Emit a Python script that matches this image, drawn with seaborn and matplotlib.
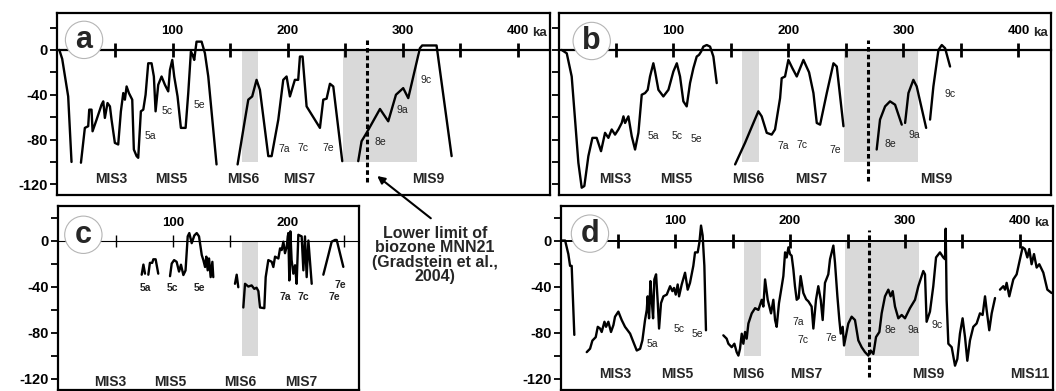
import matplotlib
matplotlib.use("Agg")
import matplotlib.pyplot as plt
import seaborn as sns
import pandas as pd

# ---------------- data (age in ka, sea level in m) ----------------
# panel a
a_ka = [
    [1.5, 4, 9.2, 12.1],
    [20.3, 23.7, 26.6, 27.5, 29.5, 30.4, 33.9, 36.8, 38.2, 39.7, 41.1, 43.4, 45.5, 46.9, 49.8,
     52.7, 55.0, 57.1, 58.5, 60.0, 62.0, 64.9, 66.3, 68.7, 70.1, 72.4, 74.5, 76.5, 78.8, 81.7,
     83.7, 85.2, 87.5, 90.4, 93.3, 96.2, 97.7, 99.7, 101.4, 104.3, 107.2, 111.3, 113.6, 115.9,
     117.4, 118.8, 120.8, 125.2, 128.1, 131.0, 138.2],
    [156.5, 162.9, 165.8, 169.2, 173.0, 175.9, 183.2, 186.1, 191.9, 196.2, 199.1, 202.0, 206.3,
     209.2, 210.7, 213.0, 216.5, 228.1, 231.0, 233.9, 236.8, 239.7, 247.5],
    [261.4, 264.3, 268.7, 280.3, 287.5, 294.2, 300.5, 304.9, 315.0, 317, 329.5, 342.6],
]
a_m = [
    [0, -8, -41.5, -100],
    [-100.7, -69.6, -68.1, -53.3, -53.3, -72.6, -62.2, -53.3, -48.9, -45.9, -60.7, -47.4, -50.4,
     -62.2, -83, -84.4, -55, -38.5, -44.4, -32.6, -38.5, -44.4, -88.9, -94.8, -96.3, -54.8,
     -53.3, -40, -11.9, -11.9, -23.7, -54.8, -31.1, -23.7, -31.1, -37, -17.8, -8.9, -23.7,
     -41.5, -69.6, -69.6, -38.5, -1.5, -4.4, -8.9, 7.4, 7.4, -3, -23.7, -102.2],
    [-102.2, -62.2, -44.4, -41.5, -26.7, -35.6, -94.8, -94.8, -62.2, -26.7, -23.7, -41.5, -26.7,
     -26.7, -5.9, -5.9, -50.4, -69.6, -44.4, -43.5, -30.2, -32.6, -99.3],
    [-99.3, -81.5, -74, -52.7, -63.7, -40, -34.1, -43, 1.5, 4, 4, -94.8],
]

# panel b
b_ka = [
    [2.9, 7.3, 11.6, 14.5, 17.4, 20.3, 22.6, 26.1, 29.6, 33.3, 37.1, 40.6, 43.5, 46.4, 49.3,
     52.2, 55.1, 56.6, 58, 60.9, 63.8, 66.7, 69.6, 72.5, 75.4, 77.7, 79.7, 82.6, 84.1, 87, 91.3,
     95.7, 100, 103, 105.8, 108.7, 111.6, 114.5, 117.4, 120.3, 122.3, 124.1, 126.1, 129, 131.9,
     134.8, 137.7],
    [153.7, 162.3, 169.6, 173.9, 176.8, 181.2, 185.5, 188.4, 192.8, 194.2, 197.1, 200, 203.5,
     207.3, 213.1, 218, 221.8, 224.7, 227.6, 233.4, 239.2, 242.1, 247.9],
    [276.8, 279.7, 284.1, 288.4, 292.8, 298.6],
    [301.5, 304.4, 308.7, 311.6, 319.8],
    [323.2, 326.1, 330.5, 333.4, 336.3, 340.6],
]
b_m = [
    [0, -3, -23.7, -62, -100.7, -123, -121.5, -94.8, -78.5, -78.5, -90.4, -74, -78.5, -71,
     -75.6, -71, -65.2, -59.3, -65.2, -59.3, -77, -88.9, -74, -40, -38.5, -35.6, -23.7, -11.9,
     -19.3, -35.6, -41.5, -35.6, -19.3, -11.9, -23.7, -45.9, -50.4, -29.6, -16.3, -5.9, -4.4,
     -1.5, 3, 4.4, 3, -5.9, -29.6],
    [-102.2, -83, -65.2, -54.8, -59.3, -74, -75.6, -71, -43, -25.2, -23.7, -8.9, -16.3, -23.7,
     -8.9, -20, -38.5, -65.2, -66.7, -38.5, -11.9, -14.8, -68.1],
    [-88.9, -62.2, -50.4, -45.9, -48.9, -66.7],
    [-65.2, -38.5, -26.7, -32.6, -69.6],
    [-62.2, -32.6, 0, 4.4, 1.5, -14.8],
]

# panel c
c_ka = [
    [72.4, 73.9, 75.3],
    [78.2, 79.6, 81.6, 82.6, 84.6, 86.9],
    [97.2, 98.7, 100.8, 103, 105.1, 106.8, 108.9, 110.8, 112.7, 114.1, 116.2, 118.5, 120.6,
     122.6, 125, 126.4, 127.9, 129, 130.2, 131.4, 132.8, 134.3, 135.1],
    [154.1, 155.6, 157],
    [161.4, 162.9, 165.8, 168.7, 171, 173, 174.6, 176, 179.8, 181, 183.3, 186.3, 187.7, 189.2,
     192.1, 193.6, 195, 196.5, 197.9, 199.4, 200.8, 201.7, 202.6, 203.7, 205.2, 206.7, 208.1,
     209.6, 212.5, 214, 215.4, 216.9, 218.4, 221.3],
    [231.5, 235.9, 238.8, 241.7, 243.2, 249],
]
c_m = [
    [-29.7, -20.9, -28.8],
    [-29.7, -19.4, -19.4, -16.3, -16.3, -28.8],
    [-31, -20, -17, -18.5, -27, -21, -30, -26, 3.6, 6.5, -2.3, 4.4, 6.5, 3.6, -12.6, -17, -23,
     -14, -25.9, -15.6, -31.8, -18.5, -31.8],
    [-37.6, -29.7, -40.6],
    [-58.2, -37.6, -40, -39, -42, -41, -44, -58.2, -58.8, -31.8, -17, -18.5, -23, -14, -15.6,
     -6.8, -8.3, -1, -11, -5.3, 6.5, -34.7, 8, -17, -28.8, -21.5, -37.6, 5, 3.6, -25.9, 3.6,
     -31.8, 0, -37.6],
    [-29.7, -12.6, -1, 0.5, 0.5, -22.9],
]

# panel d
d_ka = [
    [1.5, 4.4, 7.2, 8.7, 10.1, 12.4],
    [23.2, 26.1, 28.1, 31, 32.8, 34.8, 36.2, 38.6, 40, 42, 44.3, 46.4, 47.8, 50.7, 53.6, 56.5,
     60.9, 63.8, 66.7, 69.6, 71.6, 73.9, 75.4, 76.2, 77.4, 78.6, 79.7, 80.9, 82, 83.5, 85, 86.1,
     87.8, 89.9, 92.8, 95.7, 97.7, 99.1, 100.6, 102.3, 103.5, 105.8, 108.7, 111, 113, 115.9,
     117.4, 119.7, 121.2, 122.6, 124, 125.5, 126.9],
    [142, 144.9, 146.4, 149.3, 151.6, 153.6, 155.1, 156.5, 158, 159.4, 160.9, 162.3, 163.8,
     166.7, 169.6, 172.5, 175.4, 176.8, 178.3, 180.6, 183.5, 185.5, 187, 188.4, 190.4, 192.8,
     194.2, 195.7, 197.1, 198.6, 200, 201.4, 202.9, 204.3, 205.8, 207.5, 209.2, 211.6, 214, 216,
     218.8, 220.3, 222.6, 224.6, 226.7, 228.4, 230.4, 233.3, 234.8, 237.7, 239.1, 241.2, 242.9,
     244.1, 245.8, 247, 248.7, 250.7, 253.6, 256.5, 259.4, 262.3, 265.2, 268.1, 270.1, 272.5,
     274.8, 277.7, 279.7, 282.6, 285.5, 287.5, 289.3, 291.3, 294.2, 297.1, 300, 304.3, 308.7,
     311.6, 315.9, 317.4, 318.8, 321.7, 324.6, 327, 330.4, 333.3, 334.8, 335.4, 336.2, 337.7,
     340.6, 343.5, 345.5, 347.8, 350.1, 352.2, 354.2, 356.5, 359.4, 362.3, 365.2, 367.5, 369.6,
     371, 373.3, 375.4, 378.3],
    [382.6, 385.5, 387, 388.4, 390.7, 394.2, 397.1, 400, 402.3, 404.3, 406.4, 408.1, 410.1,
     412.2, 414.5, 416.8, 420.3, 423.8, 427.5],
]
d_m = [
    [0, 0, -11.8, -22, -22, -82],
    [-97, -94, -87, -84, -75, -76.5, -79.5, -70.6, -75, -70.6, -79.5, -73.5, -66.2, -61.8,
     -69.1, -75, -80.9, -88.3, -95.6, -94.1, -86.8, -69.1, -60.3, -48.5, -67.6, -35.3, -51.5,
     -67.6, -33.8, -29.4, -54.4, -76.5, -54.4, -48.5, -47, -39.7, -44, -41.2, -47, -38.2,
     -48.5, -38.2, -28, -42.7, -36.8, -22, -10.3, -10.3, -1.5, 13, 4.4, -22, -78],
    [-82.4, -85.3, -89.7, -92.7, -89.7, -97, -100, -94.1, -81, -89.7, -79.5, -85.3, -72.1,
     -63.3, -58.8, -60.3, -51.5, -57.4, -33.8, -51.5, -63.3, -51.5, -69.1, -75, -54.4, -39.7,
     -30.9, -10.3, -14.7, -5.9, -11.8, -13.2, -25, -39.7, -51.5, -50, -30.9, -45.6, -51, -52.9,
     -57.4, -76.5, -51.5, -39.7, -51.5, -69.1, -36.8, -29.4, -16.2, -4.4, -19.1, -48.5, -69.1,
     -80.9, -75, -91.2, -82.4, -72.1, -66.2, -69.1, -86.8, -92.7, -97, -100, -95.6, -98.6,
     -83.9, -79.5, -63.3, -48.5, -42.7, -48.5, -44, -57.4, -67.6, -64.7, -67.6, -58.8, -51.5,
     -39.7, -26.5, -29.4, -70.6, -61.8, -39.7, -14.7, -10.3, -14.7, -16.2, 10.3, -51.5, -89.7,
     -92.7, -108.8, -103, -80.9, -67.6, -83.9, -104.5, -86.8, -75, -72.1, -63.3, -64.7, -48.5,
     -60.3, -78, -63.3, -50],
    [-42.7, -39.7, -42.7, -36.8, -48.5, -33.8, -29.4, -16.2, -5.9, -7.4, -14.7, -7.4, -20.6,
     -11.8, -23.5, -20.6, -27.9, -42.7, -45.6],
]

# substage labels
a_sub = ["5a", "5c", "5e", "7a", "7c", "7e", "8e", "9a", "9c"]
a_sub_ka = [81, 95.6, 122.9, 197, 213.6, 235.3, 280.3, 300, 320.8]
a_sub_m = [-77, -54.8, -48.9, -88.3, -87.4, -87.4, -82.4, -53.3, -26.7]
b_sub = ["5a", "5c", "5e", "7a", "7c", "7e", "8e", "9a", "9c"]
b_sub_ka = [82.6, 102.9, 120.3, 195.7, 211.6, 240.6, 288.4, 309.3, 340.6]
b_sub_m = [-77, -76.4, -79.4, -85.9, -85, -88.9, -84.4, -75.6, -39.4]
c_sub = ["5a", "5c", "5e", "7a", "7c", "7e", "7e"]
c_sub_ka = [75.9, 99.2, 122.6, 197.9, 214, 246.5, 241.5]
c_sub_m = [-41.2, -41.2, -41.2, -49.4, -49.4, -39, -49.5]
d_sub = ["5a", "5c", "5e", "7a", "7c", "7e", "8e", "9a", "9c"]
d_sub_ka = [80.3, 103.5, 119.7, 207.2, 211.5, 236.2, 287, 307.2, 327.8]
d_sub_m = [-90.3, -76.5, -81, -70.6, -86.8, -84.5, -78, -78, -73.5]

# marine isotope stage labels
a_mis = ["MIS3", "MIS5", "MIS6", "MIS7", "MIS9"]
a_mis_ka = [46.3, 99, 161.4, 210, 322.3]
b_mis = ["MIS3", "MIS5", "MIS6", "MIS7", "MIS9"]
b_mis_ka = [49.3, 102.9, 165.2, 220.3, 329]
c_mis = ["MIS3", "MIS5", "MIS6", "MIS7"]
c_mis_ka = [44.7, 97.2, 158.5, 212.5]
d_mis = ["MIS3", "MIS5", "MIS6", "MIS7", "MIS9", "MIS11"]
d_mis_ka = [47.8, 102.3, 163.8, 214.5, 320.3, 408.7]

glacial_bands = [(160, 174.5), (248, 312.5)]
band_floor = -100
mnn21_limit = 269

ticks_long = [50, 100, 150, 200, 250, 300, 350, 400]
labels_long = ["", "100", "", "200", "", "300", "", "400"]
ticks_short = [50, 100, 150, 200, 250]
labels_short = ["", "100", "", "200", ""]
y_ticks = [20, 0, -20, -40, -60, -80, -100, -120]

# ---------------- drawing ----------------
sns.set_theme(style="white")
plt.rcParams['font.family'] = ['Liberation Sans', 'DejaVu Sans']

fig = plt.figure(figsize=(10.56, 3.91), dpi=100)


def panel(rect, xlim, ylim, kas, ms, bands, ticks, ticklabels, zero_lw, show_ylabels,
          letter, letter_pos, subs, sub_ka, sub_m, mis, mis_ka, mis_m,
          sub_bold=False, limit_span=None, ka_suffix=True):
    ax = fig.add_axes(rect)
    for x0, x1 in bands:
        ax.fill_between([x0, x1], [band_floor, band_floor], [0, 0],
                        color='#d9d9d9', lw=0, zorder=0)
    df = pd.concat([pd.DataFrame({'ka': k, 'm': m, 'seg': i})
                    for i, (k, m) in enumerate(zip(kas, ms))])
    sns.lineplot(data=df, x='ka', y='m', units='seg', estimator=None, sort=False,
                 color='black', lw=1.7, ax=ax, zorder=3)
    ax.set_xlabel('')
    ax.set_ylabel('')
    ax.set_xlim(*xlim)
    ax.set_ylim(*ylim)
    ax.set_xticks([])
    ax.set_yticks(y_ticks)
    ax.set_yticklabels([str(v) if (show_ylabels and v % 40 == 0) else '' for v in y_ticks],
                       fontweight='bold', fontsize=10.5)
    ax.tick_params(axis='y', left=True, direction='out', length=5, width=1.3, pad=1.5,
                   colors='black')
    for s in ax.spines.values():
        s.set_color('black')
        s.set_linewidth(1.6)

    # zero line carrying the age axis
    frac = -ylim[0] / (ylim[1] - ylim[0])
    sec = ax.secondary_xaxis(frac)
    sec.set_ticks(ticks, labels=ticklabels, fontweight='bold', fontsize=9.5)
    big = zero_lw > 1
    sec.tick_params(axis='x', direction='inout', length=10 if big else 8,
                    width=2 if big else 1, pad=4.5, colors='black')
    sec.spines['top'].set_color('black')
    sec.spines['top'].set_linewidth(zero_lw)
    if ka_suffix:
        ax.annotate('ka', xy=(400, 0), xytext=(10.5, 8.1), textcoords='offset points',
                    ha='left', va='bottom', fontsize=9.5, fontweight='bold')

    if limit_span is not None:
        ax.vlines(mnn21_limit, limit_span[0], limit_span[1], colors='black',
                  linestyles=(0, (1.5, 1.0)), lw=2.2, zorder=4)

    for n, k, m in zip(subs, sub_ka, sub_m):
        ax.text(k, m, n, ha='center', va='center', fontsize=7.5, color='#222222',
                fontweight='bold' if sub_bold else 'normal', zorder=5)
    for n, k, m in zip(mis, mis_ka, mis_m):
        ax.text(k, m, n, ha='center', va='center', fontsize=10, fontweight='bold', zorder=5)

    ax.text(letter_pos[0], letter_pos[1], letter, ha='center', va='center', fontsize=22,
            fontweight='bold', zorder=6,
            bbox=dict(boxstyle='circle,pad=0.12', fc='white', ec='#b5b5b5', lw=0.8))
    return ax


top_ylim = (-129.5, 33)
bot_ylim = (-129.5, 30)

ax_a = panel([0.0540, 0.5013, 0.4669, 0.4655], (-0.5, 428.2), top_ylim, a_ka, a_m,
             glacial_bands, ticks_long, labels_long, 1.6, True, 'a', (23, 9),
             a_sub, a_sub_ka, a_sub_m, a_mis, a_mis_ka, [-115.6] * len(a_mis),
             limit_span=(-118, 9))
ax_b = panel([0.5294, 0.5013, 0.4659, 0.4655], (0.6, 428.4), top_ylim, b_ka, b_m,
             glacial_bands, ticks_long, labels_long, 1.6, False, 'b', (29, 8),
             b_sub, b_sub_ka, b_sub_m, b_mis, b_mis_ka, [-115.6] * len(b_mis),
             limit_span=(-117, 9))
ax_c = panel([0.0545, 0.0038, 0.2850, 0.4693], (-1.3, 262.3), bot_ylim, c_ka, c_m,
             glacial_bands[:1], ticks_short, labels_short, 0.8, True, 'c', (21.3, 5),
             c_sub, c_sub_ka, c_sub_m, c_mis, c_mis_ka, [-123] * len(c_mis),
             sub_bold=True, ka_suffix=False)
ax_d = panel([0.5308, 0.0038, 0.4659, 0.4693], (0.4, 428.3), bot_ylim, d_ka, d_m,
             glacial_bands, ticks_long, labels_long, 1.4, True, 'd', (26, 6),
             d_sub, d_sub_ka, d_sub_m, d_mis, d_mis_ka, [-116] * len(d_mis),
             limit_span=(-119, 9))

# arrow + note about the biozone limit
ax_a.annotate('', xy=(276, -111), xytext=(433 / 1056, 1 - 220 / 391),
              textcoords='figure fraction', annotation_clip=False,
              arrowprops=dict(arrowstyle='-|>', color='black', lw=1.5, mutation_scale=11))
fig.text(435 / 1056, 1 - 255 / 391,
         'Lower limit of\nbiozone MNN21\n(Gradstein et al.,\n2004)',
         ha='center', va='center', fontsize=11.5, fontweight='bold', linespacing=0.95)

fig.savefig('out.png', dpi=100)
